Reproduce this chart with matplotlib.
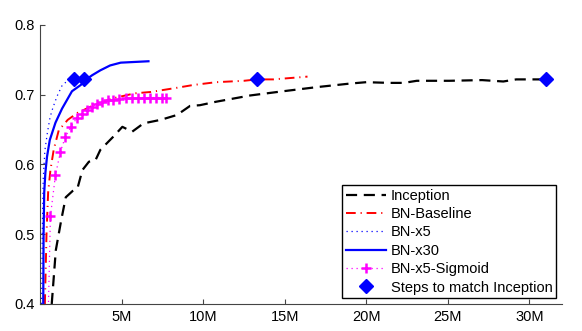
import matplotlib
matplotlib.use('Agg')
from matplotlib import pyplot as plt
from matplotlib.ticker import FixedLocator, FuncFormatter

# training steps in millions, validation accuracy
inc_x = [0.72, 0.97, 1.3, 1.58, 2.0, 2.3, 2.6, 3.0, 3.4, 3.7, 4.5, 5.05, 5.65, 6.35,
         7.4, 8.4, 9.2, 9.8, 10.8, 12.9, 14.9, 17.0, 19.0, 20.0, 21.4, 22.3, 23.1,
         25.1, 27.1, 28.4, 29.2, 31.0]
inc_y = [0.40, 0.477, 0.52, 0.553, 0.562, 0.566, 0.592, 0.604, 0.606, 0.621, 0.640,
         0.654, 0.647, 0.659, 0.664, 0.671, 0.684, 0.685, 0.690, 0.699, 0.705, 0.711,
         0.716, 0.718, 0.717, 0.717, 0.720, 0.720, 0.721, 0.719, 0.722, 0.722]

base_x = [0.3, 0.4, 0.5, 0.64, 0.84, 1.15, 1.7, 2.3, 3.3, 4.5, 5.8, 6.8, 8.4, 9.4,
          10.8, 12.5, 13.3, 14.3, 15.9, 16.4]
base_y = [0.40, 0.50, 0.56, 0.592, 0.621, 0.649, 0.664, 0.674, 0.685, 0.695, 0.702,
          0.704, 0.710, 0.714, 0.718, 0.720, 0.722, 0.722, 0.725, 0.726]

x5_x = [0.1, 0.14, 0.2, 0.3, 0.45, 0.62, 0.8, 1.05, 1.37, 1.7, 2.1]
x5_y = [0.40, 0.50, 0.58, 0.62, 0.645, 0.668, 0.682, 0.698, 0.714, 0.720, 0.722]

x30_x = [0.2, 0.22, 0.26, 0.33, 0.43, 0.6, 0.95, 1.35, 1.96, 2.5, 2.72, 3.2, 3.7,
         4.3, 4.95, 5.8, 6.65]
x30_y = [0.40, 0.50, 0.56, 0.588, 0.611, 0.635, 0.660, 0.680, 0.705, 0.714, 0.720,
         0.728, 0.735, 0.742, 0.746, 0.747, 0.748]

sig_x = [0.33, 0.64, 0.95, 1.25, 1.56, 1.9, 2.27, 2.57, 2.88, 3.18, 3.48, 3.8, 4.15,
         4.5, 4.87, 5.25, 5.62, 6.0, 6.38, 6.75, 7.12, 7.45, 7.75]
sig_y = [0.20, 0.526, 0.585, 0.618, 0.640, 0.654, 0.667, 0.672, 0.678, 0.683, 0.687,
         0.690, 0.692, 0.693, 0.694, 0.695, 0.695, 0.696, 0.696, 0.696, 0.696, 0.696,
         0.696]

match_x = [2.1, 2.7, 13.3, 31.0]
match_y = [0.722, 0.722, 0.722, 0.722]

xticks = [5, 10, 15, 20, 25, 30]
yticks = [0.4, 0.5, 0.6, 0.7, 0.8]

plt.rcParams['font.family'] = ['Liberation Sans', 'DejaVu Sans']
plt.rcParams['font.size'] = 10.5

fig = plt.figure(figsize=(5.82, 3.31), dpi=100)
ax = fig.add_axes([0.0687, 0.0816, 0.8969, 0.8429])

ax.plot(inc_x, inc_y, color='black', lw=1.6, dashes=(5, 3), label='Inception')
ax.plot(base_x, base_y, color='red', lw=1.4, dashes=(5, 2.5, 0.6, 2.5), label='BN-Baseline')
ax.plot(x5_x, x5_y, color='blue', lw=0.9, dashes=(1, 3), label='BN-x5')
ax.plot(x30_x, x30_y, color='blue', lw=1.6, label='BN-x30')
ax.plot(sig_x, sig_y, color='magenta', lw=0.9, dashes=(1, 3), marker='+', ms=7,
        mew=1.8, label='BN-x5-Sigmoid')
ax.plot(match_x, match_y, ls='none', marker='D', color='blue', ms=7.5,
        label='Steps to match Inception', clip_on=False, zorder=5)

ax.set_xlim(0, 32)
ax.set_ylim(0.4, 0.8)
ax.xaxis.set_major_locator(FixedLocator(xticks))
ax.xaxis.set_major_formatter(FuncFormatter(lambda v, p: '%dM' % v))
ax.yaxis.set_major_locator(FixedLocator(yticks))
ax.yaxis.set_major_formatter(FuncFormatter(lambda v, p: '%.1f' % v))

for s in ['top', 'right']:
    ax.spines[s].set_visible(False)
for s in ['left', 'bottom']:
    ax.spines[s].set_color('#444444')
    ax.spines[s].set_linewidth(0.8)
ax.tick_params(direction='in', length=3.5, width=0.8, color='#444444', pad=4)

leg = ax.legend(loc='lower right', fancybox=False, edgecolor='black', framealpha=1,
                handlelength=2.8, handletextpad=0.3, labelspacing=0.3,
                borderpad=0.25, borderaxespad=0.4, fontsize=10.5)
leg.get_frame().set_linewidth(1.0)

fig.savefig('out.png', dpi=100)
